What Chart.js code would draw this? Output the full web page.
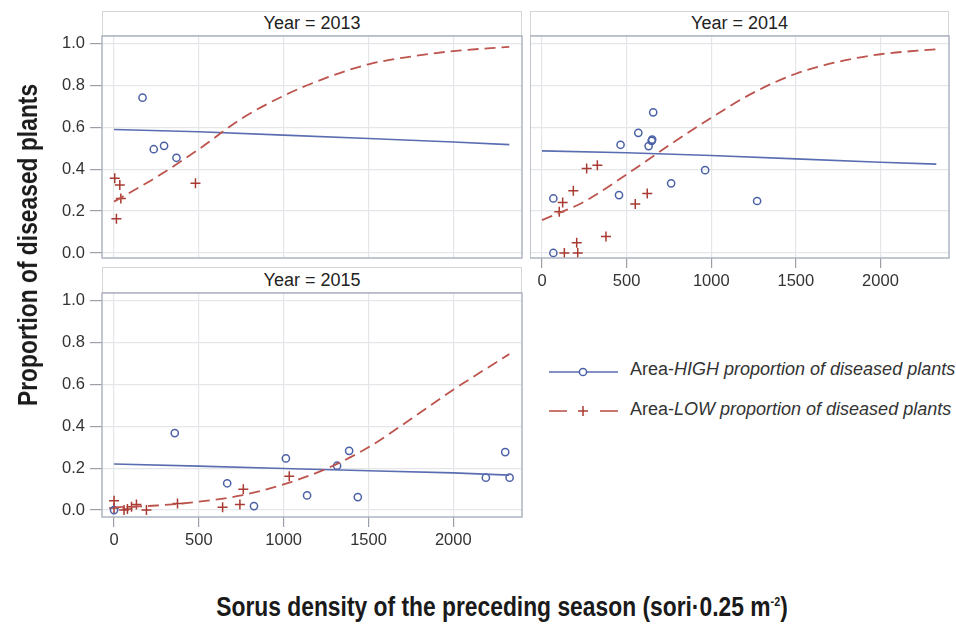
<!DOCTYPE html>
<html>
<head>
<meta charset="utf-8">
<script src="https://cdn.jsdelivr.net/npm/chart.js@4"></script>
<style>
  body { margin: 0; background: #fff; }
  #wrap { position: relative; width: 956px; height: 634px; overflow: hidden; font-family: "Liberation Sans", Arial, sans-serif; color: #2a2a2a; }
  canvas { position: absolute; }
  .head { position: absolute; box-sizing: border-box; border: 1px solid #d6d6d6; text-align: center; font-size: 18px; color: #222; }
  .ttl { position: absolute; font-weight: bold; font-size: 27.5px; white-space: nowrap; color: #1a1a1a; }
  .leg { position: absolute; font-size: 18px; white-space: nowrap; color: #333; }
</style>
</head>
<body>
<div id="wrap">
  <div class="head" style="left:102px;top:11px;width:420px;height:25px;line-height:23px;">Year = 2013</div>
  <div class="head" style="left:530px;top:11px;width:419px;height:25px;line-height:23px;">Year = 2014</div>
  <div class="head" style="left:102px;top:267px;width:420px;height:26px;line-height:24px;">Year = 2015</div>

  <canvas id="c2013" width="486" height="229" style="left:40px;top:32px;"></canvas>
  <canvas id="c2014" width="423" height="266" style="left:530px;top:32px;"></canvas>
  <canvas id="c2015" width="486" height="268" style="left:40px;top:289px;"></canvas>

  <svg style="position:absolute;left:540px;top:355px;" width="90" height="70">
    <line x1="9" y1="17" x2="78" y2="17" stroke="#5a6db0" stroke-width="1.6"/>
    <circle cx="43" cy="17" r="3.6" fill="#fff" stroke="#4b61a6" stroke-width="1.5"/>
    <line x1="9" y1="56" x2="27" y2="56" stroke="#bd544e" stroke-width="1.6"/>
    <line x1="60" y1="56" x2="78" y2="56" stroke="#bd544e" stroke-width="1.6"/>
    <line x1="38" y1="56" x2="48" y2="56" stroke="#a83a32" stroke-width="1.5"/>
    <line x1="43" y1="51" x2="43" y2="61" stroke="#a83a32" stroke-width="1.5"/>
  </svg>
  <div class="leg" style="left:630px;top:359px;">Area-<i>HIGH proportion of diseased plants</i></div>
  <div class="leg" style="left:630px;top:399px;">Area-<i>LOW proportion of diseased plants</i></div>

  <div class="ttl" style="left:28px;top:245px;transform:translate(-50%,-50%) rotate(-90deg) scaleX(0.83);">Proportion of diseased plants</div>
  <div class="ttl" style="left:502px;top:607px;transform:translate(-50%,-50%) scaleX(0.83);">Sorus density of the preceding season (sori·0.25 m<sup style="font-size:13px;">-2</sup>)</div>
</div>
<script>
// tick labels
const xTicks = [0, 500, 1000, 1500, 2000];
const yTicks = [0, 0.2, 0.4, 0.6, 0.8, 1.0];

// observed points
const high2013X = [168, 234, 295, 368];
const high2013Y = [0.741, 0.495, 0.511, 0.454];
const low2013X = [4, 34, 40, 14, 480];
const low2013Y = [0.356, 0.324, 0.26, 0.163, 0.332];

const high2014X = [67, 67, 455, 464, 569, 630, 648, 651, 657, 763, 964, 1271];
const high2014Y = [0.26, 0.0, 0.276, 0.516, 0.573, 0.51, 0.535, 0.541, 0.671, 0.332, 0.395, 0.248];
const low2014X = [122, 102, 185, 264, 327, 132, 211, 205, 378, 551, 622];
const low2014Y = [0.241, 0.197, 0.297, 0.403, 0.419, 0.0, 0.0, 0.049, 0.078, 0.233, 0.284];

const high2015X = [0, 358, 667, 825, 1013, 1138, 1315, 1386, 1437, 2192, 2306, 2332];
const high2015Y = [0.0, 0.368, 0.128, 0.019, 0.247, 0.070, 0.212, 0.283, 0.062, 0.155, 0.277, 0.155];
const low2015X = [0, 0, 59, 79, 103, 132, 191, 374, 640, 742, 762, 1033];
const low2015Y = [0.045, 0.01, 0.0, 0.005, 0.016, 0.027, 0.0, 0.032, 0.013, 0.027, 0.099, 0.162];

// fitted curves
const fitX = [0, 250, 500, 750, 1000, 1250, 1500, 1750, 2000, 2330];
const fitLow2013 = [0.245, 0.362, 0.495, 0.64, 0.75, 0.835, 0.90, 0.937, 0.963, 0.983];
const fitLow2014 = [0.157, 0.245, 0.375, 0.513, 0.645, 0.765, 0.855, 0.912, 0.948, 0.972];
const fitLow2015 = [0.013, 0.022, 0.04, 0.07, 0.123, 0.197, 0.30, 0.435, 0.575, 0.745];

const lineX = [0, 500, 1000, 1500, 2000, 2330];
const fitHigh2013 = [0.589, 0.578, 0.562, 0.546, 0.529, 0.517];
const fitHigh2014 = [0.487, 0.478, 0.465, 0.449, 0.433, 0.424];
const fitHigh2015 = [0.22, 0.21, 0.199, 0.188, 0.178, 0.167];

const blue = '#4b61a6', blueLine = '#5a6db0';
const red = '#a83a32', redLine = '#bd544e';
const gridCol = '#e4e6ea', tickCol = '#9a9fa8';
const tickFont = { family: 'Liberation Sans, Arial, sans-serif', size: 16.5 };

const pts = (xs, ys) => xs.map((x, i) => ({ x: x, y: ys[i] }));

// panel frame
const frame = {
  id: 'frame',
  afterDraw(chart) {
    const { ctx, chartArea: a } = chart;
    ctx.save();
    ctx.strokeStyle = '#adb4c1';
    ctx.lineWidth = 1.5;
    ctx.strokeRect(a.left, a.top, a.right - a.left, a.bottom - a.top);
    ctx.restore();
  }
};

function noPad(s) {
  s.paddingTop = 0; s.paddingBottom = 0; s.paddingLeft = 0; s.paddingRight = 0;
}

function panel(id, d, showX, showY, yMin, yMax) {
  new Chart(document.getElementById(id), {
    type: 'scatter',
    data: {
      datasets: [
        { data: pts(fitX, d.lowFit), showLine: true, borderColor: redLine, borderWidth: 1.8, borderDash: [11, 6],
          pointRadius: 0, cubicInterpolationMode: 'monotone' },
        { data: pts(lineX, d.highFit), showLine: true, borderColor: blueLine, borderWidth: 1.6, pointRadius: 0 },
        { data: pts(d.highX, d.highY), pointStyle: 'circle', pointRadius: 3.6, borderWidth: 1.5,
          borderColor: blue, backgroundColor: 'rgba(0,0,0,0)' },
        { data: pts(d.lowX, d.lowY), pointStyle: 'cross', pointRadius: 5, borderWidth: 1.5, borderColor: red }
      ]
    },
    options: {
      responsive: false,
      animation: false,
      events: [],
      layout: { autoPadding: false, padding: { top: 4, right: 4, left: 0, bottom: 0 } },
      plugins: { legend: { display: false }, tooltip: { enabled: false } },
      scales: {
        x: {
          type: 'linear', min: -71, max: 2405,
          afterBuildTicks: s => { s.ticks = xTicks.map(v => ({ value: v })); },
          afterFit: s => { s.height = showX ? 40 : 3; noPad(s); },
          border: { display: false },
          grid: { color: gridCol, tickColor: tickCol, tickLength: 10, drawTicks: showX, lineWidth: 1.2 },
          ticks: { display: showX, font: tickFont, color: '#333', padding: 4, maxRotation: 0, callback: v => String(v) }
        },
        y: {
          type: 'linear', min: yMin, max: yMax,
          afterBuildTicks: s => { s.ticks = yTicks.map(v => ({ value: v })); },
          afterFit: s => { s.width = showY ? 62 : 0; noPad(s); },
          border: { display: false },
          grid: { color: gridCol, tickColor: tickCol, tickLength: 12, drawTicks: showY, lineWidth: 1.2 },
          ticks: { display: showY, font: tickFont, color: '#333', padding: 5, callback: v => v.toFixed(1) }
        }
      }
    },
    plugins: [frame]
  });
}

panel('c2013', { highX: high2013X, highY: high2013Y, lowX: low2013X, lowY: low2013Y,
  lowFit: fitLow2013, highFit: fitHigh2013 }, false, true, -0.024, 1.035);
panel('c2014', { highX: high2014X, highY: high2014Y, lowX: low2014X, lowY: low2014Y,
  lowFit: fitLow2014, highFit: fitHigh2014 }, true, false, -0.024, 1.035);
panel('c2015', { highX: high2015X, highY: high2015Y, lowX: low2015X, lowY: low2015Y,
  lowFit: fitLow2015, highFit: fitHigh2015 }, true, true, -0.033, 1.037);
</script>
</body>
</html>
